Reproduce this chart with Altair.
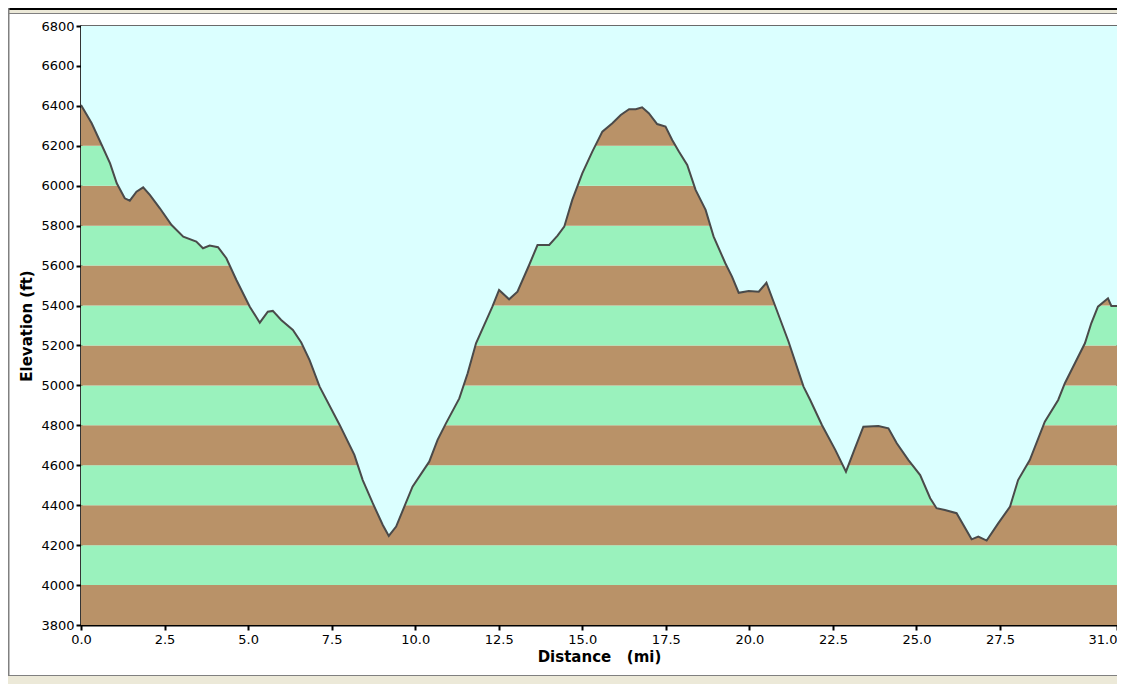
import altair as alt
import pandas as pd

# Profile: distance (mi) and elevation (ft)
dist = [0.0, 0.32, 0.62, 0.87, 1.07, 1.31, 1.46, 1.66, 1.86, 2.06, 2.36, 2.71, 3.06, 3.45, 3.65,
        3.85, 4.10, 4.35, 4.65, 5.05, 5.35, 5.59, 5.74, 5.99, 6.34, 6.59, 6.84, 7.14, 7.74, 8.18,
        8.43, 8.73, 9.03, 9.21, 9.43, 9.92, 10.42, 10.67, 10.92, 11.32, 11.57, 11.82, 12.22, 12.31,
        12.51, 12.81, 13.06, 13.41, 13.66, 14.01, 14.26, 14.46, 14.70, 15.00, 15.30, 15.60, 15.90,
        16.15, 16.40, 16.60, 16.79, 16.99, 17.24, 17.49, 17.69, 17.89, 18.14, 18.39, 18.69, 18.93,
        19.28, 19.48, 19.68, 19.98, 20.28, 20.51, 20.78, 21.17, 21.62, 21.82, 22.17, 22.57, 22.89,
        23.12, 23.41, 23.86, 24.16, 24.41, 24.76, 25.11, 25.41, 25.60, 25.85, 26.20, 26.65, 26.85,
        27.10, 27.45, 27.80, 28.04, 28.39, 28.84, 29.24, 29.44, 29.74, 30.04, 30.23, 30.43, 30.73,
        30.83, 31.00]
elev = [6404, 6313, 6204, 6112, 6012, 5937, 5925, 5970, 5992, 5954, 5887, 5803, 5745, 5720, 5687,
        5700, 5692, 5637, 5528, 5394, 5314, 5369, 5373, 5328, 5278, 5215, 5127, 4994, 4802, 4652,
        4526, 4410, 4301, 4246, 4293, 4493, 4618, 4727, 4810, 4935, 5061, 5211, 5361, 5394,
        5478, 5431, 5469, 5603, 5703, 5703, 5750, 5795, 5929, 6062, 6171, 6271, 6313,
        6354, 6383, 6383, 6393, 6363, 6309, 6296, 6229, 6171, 6104, 5979, 5879, 5745,
        5612, 5545, 5464, 5473, 5469, 5514, 5394, 5220, 4994, 4927, 4802, 4677, 4568,
        4668, 4793, 4797, 4785, 4710, 4626, 4551, 4435, 4385, 4376, 4360, 4229, 4243,
        4223, 4310, 4393, 4526, 4626, 4818, 4927, 5011, 5111, 5211, 5311, 5394, 5436,
        5398, 5398]

# Elevation bands (every 200 ft), alternating colours
band_lo = list(range(3800, 6800, 200))
band_colors = ["#B99268", "#9AF2BD"]
x_ticks = [0, 2.5, 5, 7.5, 10, 12.5, 15, 17.5, 20, 22.5, 25, 27.5, 31]
y_ticks = list(range(3800, 6801, 200))
X_MAX = 31
Y_MIN, Y_MAX = 3800, 6800

W, H = 1036, 599
PAD_L, PAD_T, PAD_R, PAD_B = 73, 18, 0, 59

prof = pd.DataFrame({"dist": dist, "elev": elev})
prof["sky"] = Y_MAX
bands = pd.DataFrame({
    "lo": band_lo,
    "hi": [b + 200 for b in band_lo],
    "x0": 0, "x1": X_MAX,
    "color": [band_colors[i % 2] for i in range(len(band_lo))],
})

FONT = "DejaVu Sans"
NB = "\u00a0"
xscale = alt.Scale(domain=[0, X_MAX], nice=False, zero=False)
yscale = alt.Scale(domain=[Y_MIN, Y_MAX], nice=False, zero=False)

xaxis = alt.Axis(values=x_ticks, format=".1f", title="Distance" + NB * 3 + "(mi)", grid=False,
                 labelFont=FONT, labelFontSize=13, labelColor="#000", labelOverlap=False,
                 labelAlign=alt.expr("datum.value == 31 ? 'right' : 'center'"),
                 titleFont=FONT, titleFontSize=15, titleFontWeight="bold", titleColor="#000",
                 titlePadding=3, domainColor="#000", domainWidth=2, tickColor="#000",
                 tickWidth=2, tickSize=5, labelPadding=3)
yaxis = alt.Axis(values=y_ticks, tickCount=len(y_ticks), format="d", title="Elevation (ft)",
                 grid=False, labelFont=FONT, labelFontSize=13, labelColor="#000",
                 labelOverlap=False, labelBound=False, labelFlush=False,
                 titleFont=FONT, titleFontSize=15, titleFontWeight="bold", titleColor="#000",
                 titlePadding=6, domainColor="#000", domainWidth=2, tickColor="#000",
                 tickWidth=2, tickSize=5, labelPadding=2)

band_layer = alt.Chart(bands).mark_rect().encode(
    x=alt.X("x0:Q", scale=xscale, axis=xaxis),
    x2="x1:Q",
    y=alt.Y("lo:Q", scale=yscale, axis=yaxis),
    y2="hi:Q",
    color=alt.Color("color:N", scale=None),
)

sky_layer = alt.Chart(prof).mark_area(color="#DBFFFF", opacity=1).encode(
    x=alt.X("dist:Q", scale=xscale, axis=xaxis),
    y=alt.Y("elev:Q", scale=yscale, axis=yaxis),
    y2="sky:Q",
)

line_layer = alt.Chart(prof).mark_line(color="#4A4A4A", strokeWidth=2).encode(
    x=alt.X("dist:Q", scale=xscale, axis=xaxis),
    y=alt.Y("elev:Q", scale=yscale, axis=yaxis),
)

one = alt.Data(values=[{}])
def deco(x, x2, y, y2, color):
    return alt.Chart(one).mark_rect(color=color).encode(
        x=alt.value(x), x2=alt.value(x2), y=alt.value(y), y2=alt.value(y2))

frame = [
    deco(-PAD_L, W + PAD_R, -PAD_T, -PAD_T + 2, "#000000"),
    deco(-PAD_L, W + PAD_R, -PAD_T + 2, -PAD_T + 5, "#ECE9D8"),
    deco(-PAD_L, W + PAD_R, -PAD_T + 5, -PAD_T + 6, "#808080"),
    deco(-PAD_L, -PAD_L + 1.5, -PAD_T, H + PAD_B, "#808080"),
    deco(-PAD_L, W + PAD_R, H + 50, H + 51, "#808080"),
    deco(-PAD_L, W + PAD_R, H + 51, H + PAD_B, "#ECE9D8"),
]

chart = alt.layer(band_layer, sky_layer, line_layer, *frame).properties(
    width=W, height=H,
    autosize=alt.AutoSizeParams(type="none"),
    padding={"left": PAD_L, "top": PAD_T, "right": PAD_R, "bottom": PAD_B},
    background="#FFFFFF",
).configure_view(stroke="#3A3A3A", strokeWidth=1.5)

chart.save("out.html", embed_options={"renderer": "svg", "actions": False})
